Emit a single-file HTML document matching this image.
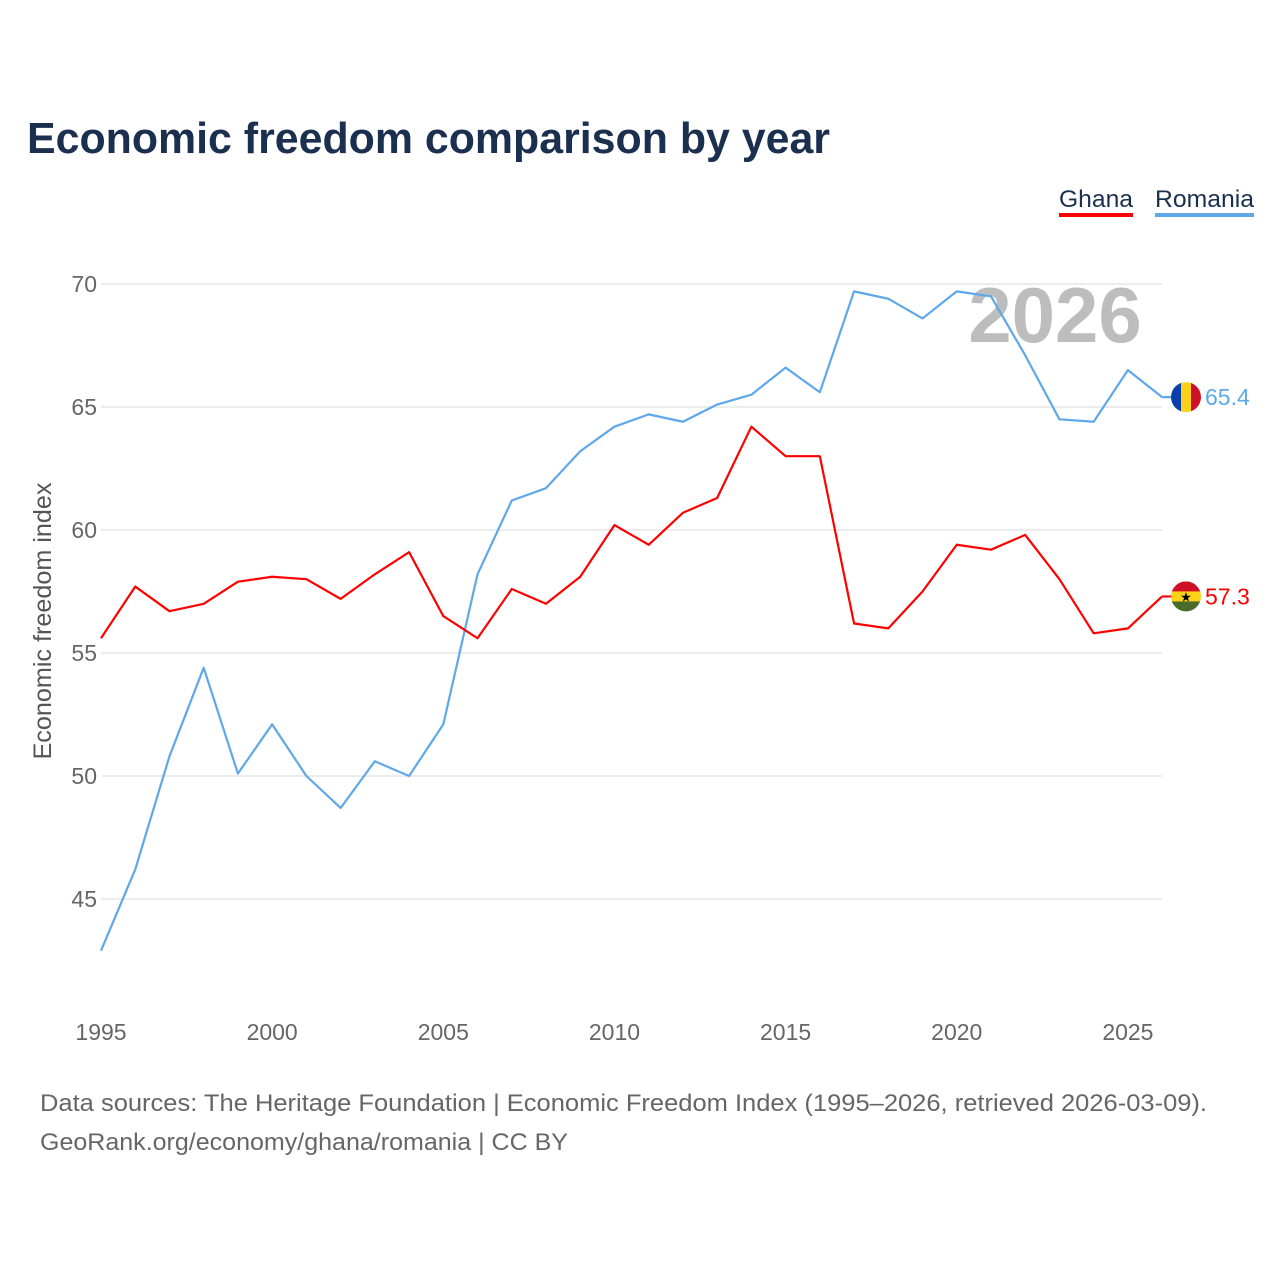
<!DOCTYPE html>
<html><head><meta charset="utf-8">
<style>
body{margin:0;background:#fff;width:1280px;height:1280px;overflow:hidden;font-family:"Liberation Sans",sans-serif}
</style></head>
<body>
<svg id="chart" width="1280" height="1280" xmlns="http://www.w3.org/2000/svg">
<text x="27" y="153" font-size="44" font-weight="bold" fill="#1b2f4e" textLength="803" lengthAdjust="spacingAndGlyphs">Economic freedom comparison by year</text>
<g>
<text x="1059" y="207" font-size="24" fill="#1b2f4e" textLength="74" lengthAdjust="spacingAndGlyphs">Ghana</text>
<rect x="1059" y="213" width="74" height="4" fill="#ff0000"/>
<text x="1155" y="207" font-size="24" fill="#1b2f4e" textLength="99" lengthAdjust="spacingAndGlyphs">Romania</text>
<rect x="1155" y="213" width="99" height="4" fill="#5ea8ea"/>
</g>
<g id="grid"></g>
<text x="1055" y="342" font-size="78" font-weight="bold" fill="#bdbdbd" text-anchor="middle">2026</text>
<text transform="translate(51,621) rotate(-90)" font-size="25" fill="#555" text-anchor="middle" textLength="277" lengthAdjust="spacingAndGlyphs">Economic freedom index</text>
<g id="series"></g>
<text x="40" y="1111" font-size="24" fill="#666" textLength="1167" lengthAdjust="spacingAndGlyphs">Data sources: The Heritage Foundation | Economic Freedom Index (1995–2026, retrieved 2026-03-09).</text>
<text x="40" y="1150" font-size="24" fill="#666" textLength="528" lengthAdjust="spacingAndGlyphs">GeoRank.org/economy/ghana/romania | CC BY</text>
</svg>
<script>
const years=[1995,1996,1997,1998,1999,2000,2001,2002,2003,2004,2005,2006,2007,2008,2009,2010,2011,2012,2013,2014,2015,2016,2017,2018,2019,2020,2021,2022,2023,2024,2025,2026];
const romania=[42.9,46.2,50.8,54.4,50.1,52.1,50.0,48.7,50.6,50.0,52.1,58.2,61.2,61.7,63.2,64.2,64.7,64.4,65.1,65.5,66.6,65.6,69.7,69.4,68.6,69.7,69.5,67.1,64.5,64.4,66.5,65.4];
const ghana=[55.6,57.7,56.7,57.0,57.9,58.1,58.0,57.2,58.2,59.1,56.5,55.6,57.6,57.0,58.1,60.2,59.4,60.7,61.3,64.2,63.0,63.0,56.2,56.0,57.5,59.4,59.2,59.8,58.0,55.8,56.0,57.3];
const yTicks=[45,50,55,60,65,70];
const xTicks=[1995,2000,2005,2010,2015,2020,2025];
const NS="http://www.w3.org/2000/svg";
const xs=y=>101+(y-1995)*34.23;
const ys=v=>284+(70-v)*24.6;
const grid=document.getElementById('grid'), ser=document.getElementById('series');
function mk(tag,attrs,parent){const e=document.createElementNS(NS,tag);for(const k in attrs)e.setAttribute(k,attrs[k]);parent.appendChild(e);return e;}
yTicks.forEach(t=>{
 const l=mk('line',{x1:101,x2:1162,y1:ys(t),y2:ys(t),stroke:'#e6e6e6','stroke-width':1.5},grid);
 
 
 const tx=mk('text',{x:97,y:ys(t)+8,'font-size':23,fill:'#666','text-anchor':'end'},grid);
 tx.textContent=t;
 
 
});
xTicks.forEach(t=>{
 const tx=mk('text',{x:xs(t),y:1040,'font-size':23,fill:'#666','text-anchor':'middle'},grid);
 tx.textContent=t;
 
 
});
function line(vals,color,name){
 const p=mk('polyline',{points:vals.map((v,i)=>xs(years[i])+','+ys(v)).join(' '),fill:'none',stroke:color,'stroke-width':2.2,'stroke-linejoin':'round'},ser);
 
 
}
line(romania,'#5ea8ea','romania');
line(ghana,'#ff0000','ghana');
function flag(vals,name,color,stripes,vertical,star){
 const v=vals[vals.length-1];const cx=1186,cy=ys(v);
 mk('line',{x1:xs(years[years.length-1]),x2:cx,y1:cy,y2:cy,stroke:color,'stroke-width':2.2},ser);
 const g=mk('g',{},ser);
 
 
 const cp=mk('clipPath',{id:'cp'+name},g);mk('circle',{cx:cx,cy:cy,r:15},cp);
 const w=30/stripes.length;
 stripes.forEach((c,i)=>{
  if(vertical)mk('rect',{x:cx-15+i*w,y:cy-15,width:w+0.5,height:30,fill:c,'clip-path':'url(#cp'+name+')'},g);
  else mk('rect',{x:cx-15,y:cy-15+i*w,width:30,height:w+0.5,fill:c,'clip-path':'url(#cp'+name+')'},g);
 });
 if(star){const s=mk('text',{x:cx,y:cy+5,'font-size':13,'text-anchor':'middle',fill:'#000'},g);s.textContent='★';}
 const t=mk('text',{x:1205,y:cy+8,'font-size':23,fill:color},ser);
 t.textContent=v.toFixed(1);
 
 
}
flag(romania,'romania','#5ea8ea',['#0b3fa8','#fcd116','#ce1126'],true,false);
flag(ghana,'ghana','#ff0000',['#ce1126','#fcd116','#4a6b2a'],false,true);
</script>
</body></html>
